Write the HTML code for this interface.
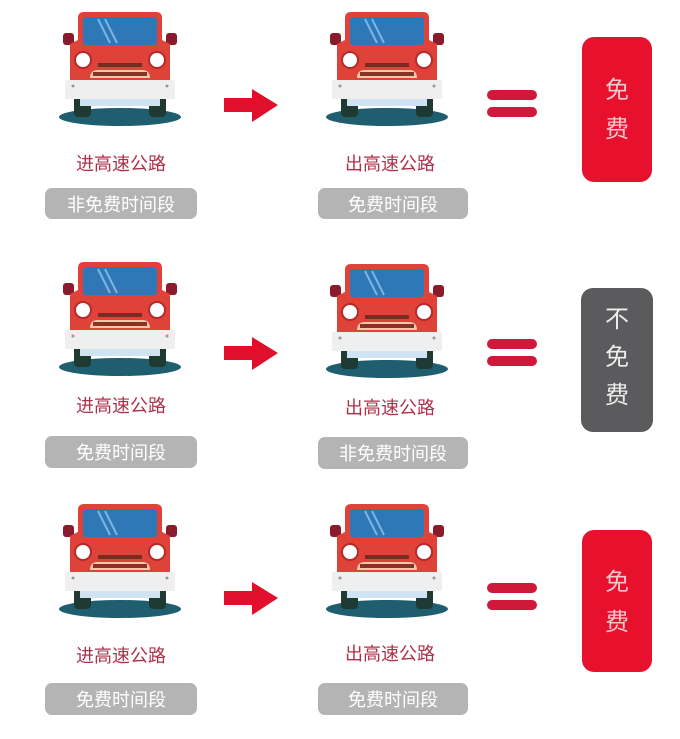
<!DOCTYPE html>
<html><head><meta charset="utf-8"><style>
body{margin:0;background:#fff}
svg{display:block}
.t{font-family:"Liberation Sans","Noto Sans CJK SC",sans-serif;text-anchor:middle}
</style></head><body>
<svg width="680" height="739" viewBox="0 0 680 739" xmlns="http://www.w3.org/2000/svg">
<defs>
<g id="car">
<ellipse cx="0" cy="107" rx="61" ry="9" fill="#1f5e6e"/>
<rect x="-46" y="83" width="17" height="24" rx="4" fill="#1e3a32"/>
<rect x="29" y="83" width="17" height="24" rx="4" fill="#1e3a32"/>
<rect x="-40" y="88" width="80" height="8" fill="#cfe3f0"/>
<rect x="-57" y="23" width="11" height="12" rx="3" fill="#8b1a2c"/>
<rect x="46" y="23" width="11" height="12" rx="3" fill="#8b1a2c"/>
<path d="M-42 8 Q-42 2 -36 2 L36 2 Q42 2 42 8 L42 30 L50 34 L50 72 L-50 72 L-50 34 L-42 30 Z" fill="#df4238"/>
<rect x="-37" y="7" width="74" height="28" rx="3" fill="#2f78b8"/>
<line x1="-22" y1="9" x2="-10" y2="33" stroke="#7db3e0" stroke-width="2"/>
<line x1="-15" y1="9" x2="-3" y2="33" stroke="#7db3e0" stroke-width="2"/>
<circle cx="-37" cy="50" r="8" fill="#fff" stroke="#b52a2a" stroke-width="2"/>
<circle cx="37" cy="50" r="8" fill="#fff" stroke="#b52a2a" stroke-width="2"/>
<rect x="-22" y="53" width="44" height="4" fill="#7a2a20"/>
<path d="M-30 68 Q-30 60 -22 60 L22 60 Q30 60 30 68 Z" fill="#f2c9a8"/>
<rect x="-27" y="62" width="54" height="4" fill="#8a3325"/>
<rect x="-55" y="70" width="110" height="19" rx="2" fill="#efefef"/>
<circle cx="-47" cy="76" r="1.5" fill="#999"/><circle cx="47" cy="76" r="1.5" fill="#999"/>
</g>
<g id="arrow"><path d="M0 -7 L28 -7 L28 -16 L54 0 L28 17 L28 7 L0 7 Z" fill="#e0102d"/></g>
<g id="eq"><rect x="0" y="-14" width="50" height="10" rx="5" fill="#d0193a"/><rect x="0" y="3" width="50" height="10" rx="5" fill="#d0193a"/></g>
</defs>

<!-- Row 1 -->
<use href="#car" x="120" y="10"/>
<use href="#car" x="387" y="10"/>
<use href="#arrow" x="224" y="105"/>
<use href="#eq" x="487" y="104"/>
<text class="t" x="121" y="170" font-size="18" fill="#b0304a">进高速公路</text>
<rect x="45" y="188" width="152" height="31" rx="7" fill="#b4b4b4"/>
<text class="t" x="121" y="211" font-size="18" fill="#fff">非免费时间段</text>
<text class="t" x="390" y="170" font-size="18" fill="#b0304a">出高速公路</text>
<rect x="318" y="188" width="150" height="31" rx="7" fill="#b4b4b4"/>
<text class="t" x="393" y="211" font-size="18" fill="#fff">免费时间段</text>
<rect x="582" y="37" width="70" height="145" rx="12" fill="#e8112d"/>
<text class="t" x="617" y="98" font-size="24" fill="#f6c8cf">免</text>
<text class="t" x="617" y="137" font-size="24" fill="#f6c8cf">费</text>

<!-- Row 2 -->
<use href="#car" x="120" y="260"/>
<use href="#car" x="387" y="262"/>
<use href="#arrow" x="224" y="353"/>
<use href="#eq" x="487" y="353"/>
<text class="t" x="121" y="412" font-size="18" fill="#b0304a">进高速公路</text>
<rect x="45" y="436" width="152" height="32" rx="7" fill="#b4b4b4"/>
<text class="t" x="121" y="459" font-size="18" fill="#fff">免费时间段</text>
<text class="t" x="390" y="414" font-size="18" fill="#b0304a">出高速公路</text>
<rect x="318" y="437" width="150" height="32" rx="7" fill="#b4b4b4"/>
<text class="t" x="393" y="460" font-size="18" fill="#fff">非免费时间段</text>
<rect x="581" y="288" width="72" height="144" rx="12" fill="#5b5a5c"/>
<text class="t" x="617" y="327" font-size="24" fill="#eee">不</text>
<text class="t" x="617" y="365" font-size="24" fill="#eee">免</text>
<text class="t" x="617" y="403" font-size="24" fill="#eee">费</text>

<!-- Row 3 -->
<use href="#car" x="120" y="502"/>
<use href="#car" x="387" y="502"/>
<use href="#arrow" x="224" y="598"/>
<use href="#eq" x="487" y="597"/>
<text class="t" x="121" y="662" font-size="18" fill="#b0304a">进高速公路</text>
<rect x="45" y="683" width="152" height="32" rx="7" fill="#b4b4b4"/>
<text class="t" x="121" y="706" font-size="18" fill="#fff">免费时间段</text>
<text class="t" x="390" y="660" font-size="18" fill="#b0304a">出高速公路</text>
<rect x="318" y="683" width="150" height="32" rx="7" fill="#b4b4b4"/>
<text class="t" x="393" y="706" font-size="18" fill="#fff">免费时间段</text>
<rect x="582" y="530" width="70" height="142" rx="12" fill="#e8112d"/>
<text class="t" x="617" y="590" font-size="24" fill="#f6c8cf">免</text>
<text class="t" x="617" y="630" font-size="24" fill="#f6c8cf">费</text>
</svg>
</body></html>
